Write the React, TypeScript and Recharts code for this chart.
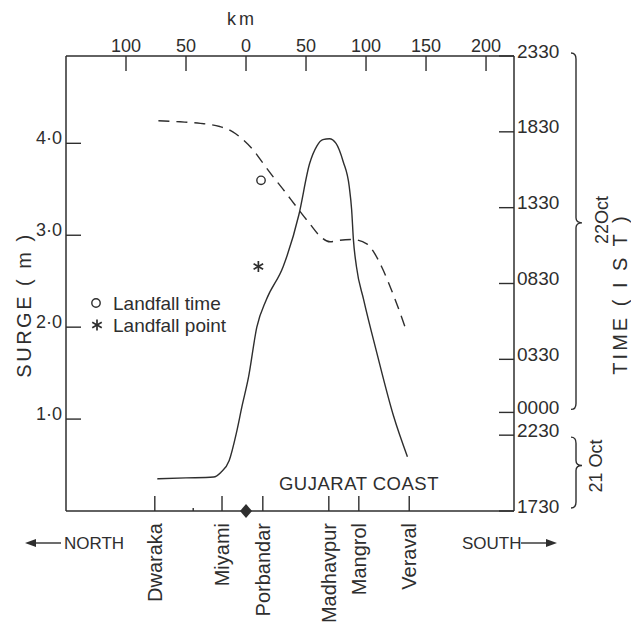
import { ComposedChart, Line, Scatter, XAxis, YAxis, Customized } from 'recharts'

// distance along the coast in km (negative = north of the landfall point)
const surgeKm = [-74, -50, -27, -21, -14, -8, -3.5, 2, 9, 17, 31, 44, 53, 59, 64, 69.5, 75, 81, 86, 88, 89.5, 92, 98, 109, 123, 134.5]
// peak surge, metres
const surgeM = [0.35, 0.36, 0.37, 0.42, 0.55, 0.85, 1.13, 1.45, 2.0, 2.3, 2.66, 3.22, 3.78, 3.97, 4.04, 4.05, 4.0, 3.8, 3.53, 3.28, 2.95, 2.66, 2.3, 1.72, 1.03, 0.59]

// time of peak surge, hours after 1730 IST 21 Oct
const timeKm = [-73, -55, -38, -22, -11, -2, 6, 14, 23, 32, 42, 53, 62, 70, 78, 89, 101, 107, 113, 124, 134]
const timeHrs = [25.73, 25.66, 25.56, 25.35, 25.0, 24.45, 23.8, 22.95, 22.0, 21.1, 20.06, 18.95, 18.1, 17.75, 17.85, 17.9, 17.6, 17.0, 16.1, 14.0, 11.8]

const kmTicks = [-100, -50, 0, 50, 100, 150, 200]
const surgeTicks = [1, 2, 3, 4]
const surgeLabels = ['1·0', '2·0', '3·0', '4·0']
const timeTicks = [0, 5, 6.5, 10, 15, 20, 25, 30]
const timeLabels = ['1730', '2230', '0000', '0330', '0830', '1330', '1830', '2330']
const places = ['Dwaraka', 'Miyami', 'Porbandar', 'Madhavpur', 'Mangrol', 'Veraval']
const placeKm = [-76, -20, 14, 69, 94, 136]
const minorKm = [-44]

const landfallTime = [{ km: 12.5, hrs: 21.8 }]
const landfallPoint = [{ km: 10.3, surge: 2.66 }]
const landfallKm = [{ km: 0, surge: 0 }]

const surgeData = surgeKm.map((km, i) => ({ km, surge: surgeM[i] }))
const timeData = timeKm.map((km, i) => ({ km, hrs: timeHrs[i] }))

const INK = '#2e2e2e'
const FONT = '"Liberation Sans", Arial, sans-serif'
const W = 631
const H = 623
// axes take 1px each, so the plot box sits at 66..514 x 56..511
const M = { top: 55, right: 116, bottom: 111, left: 65 }
const PLOT_TOP = 56
const PLOT_H = 455
const HOURS = 30
const TICK = 15

const hourY = (h: number) => PLOT_TOP + (1 - h / HOURS) * PLOT_H

const TopTick = ({ x, y, payload }: any) => (
  <g>
    <line x1={x} y1={y} x2={x} y2={y + TICK} stroke={INK} strokeWidth={1.4} />
    <text x={x} y={y - 4} textAnchor="middle" fontSize={18} fill={INK} fontFamily={FONT}>
      {Math.abs(payload.value)}
    </text>
  </g>
)

const LeftTick = ({ x, y, payload }: any) => (
  <g>
    <line x1={x} y1={y} x2={x + TICK} y2={y} stroke={INK} strokeWidth={1.4} />
    <text x={x - 4} y={y + 1} textAnchor="end" fontSize={18} fill={INK} fontFamily={FONT}>
      {surgeLabels[surgeTicks.indexOf(payload.value)]}
    </text>
  </g>
)

const RightTick = ({ x, y, payload }: any) => (
  <g>
    <line x1={x - TICK} y1={y} x2={x} y2={y} stroke={INK} strokeWidth={1.4} />
    <text x={x + 3} y={y + 1.5} textAnchor="start" fontSize={19} fill={INK} fontFamily={FONT}>
      {timeLabels[timeTicks.indexOf(payload.value)]}
    </text>
  </g>
)

const PlaceTick = ({ x, y, payload }: any) => {
  const name = places[placeKm.indexOf(payload.value)]
  return (
    <g>
      <line x1={x} y1={y} x2={x} y2={y - (name ? TICK : 3)} stroke={INK} strokeWidth={1.4} />
      {name && (
        <text
          transform={`translate(${x + 7},${y + 12}) rotate(-90)`}
          textAnchor="end"
          fontSize={20}
          fill={INK}
          fontFamily={FONT}
        >
          {name}
        </text>
      )}
    </g>
  )
}

const Asterisk = ({ cx, cy, r = 5.5 }: any) => (
  <g stroke={INK} strokeWidth={1.7}>
    {[0, 60, 120].map((a) => {
      const t = (a * Math.PI) / 180
      return (
        <line
          key={a}
          x1={cx - r * Math.sin(t)}
          y1={cy - r * Math.cos(t)}
          x2={cx + r * Math.sin(t)}
          y2={cy + r * Math.cos(t)}
        />
      )
    })}
  </g>
)

const Ring = ({ cx, cy }: any) => <circle cx={cx} cy={cy} r={4.2} fill="#fff" stroke={INK} strokeWidth={1.4} />

const Diamond = ({ cx, cy }: any) => (
  <path d={`M${cx},${cy - 7} L${cx + 6},${cy} L${cx},${cy + 7} L${cx - 6},${cy} Z`} fill={INK} />
)

// curly bracket opening to the left, tip pointing right
const brace = (x: number, y1: number, y2: number, ym: number) =>
  `M${x - 5},${y1} Q${x},${y1} ${x},${y1 + 6} L${x},${ym - 5} Q${x},${ym} ${x + 6},${ym} ` +
  `Q${x},${ym} ${x},${ym + 5} L${x},${y2 - 6} Q${x},${y2} ${x - 5},${y2}`

const Notes = () => (
  <g fontFamily={FONT} fill={INK}>
    <text x={242} y={25} textAnchor="middle" fontSize={18} letterSpacing={3}>km</text>
    <text transform="translate(31,305) rotate(-90)" textAnchor="middle" fontSize={20} letterSpacing={2.5}>
      SURGE ( m )
    </text>
    <text transform="translate(627,294) rotate(-90)" textAnchor="middle" fontSize={20} letterSpacing={3}>
      TIME ( I S T )
    </text>
    <text transform="translate(608,220) rotate(-90)" textAnchor="middle" fontSize={18}>22Oct</text>
    <text transform="translate(602,466) rotate(-90)" textAnchor="middle" fontSize={18}>21 Oct</text>
    <path d={brace(576, hourY(HOURS) - 3, hourY(6.5) - 3, hourY(19))} fill="none" stroke={INK} strokeWidth={1.4} />
    <path d={brace(576, hourY(5) + 2, hourY(0) - 3, hourY(3))} fill="none" stroke={INK} strokeWidth={1.4} />

    <Ring cx={96} cy={303} />
    <text x={113} y={310} fontSize={19}>Landfall time</text>
    <Asterisk cx={97} cy={325} />
    <text x={113} y={332} fontSize={19}>Landfall point</text>

    <text x={359} y={490} textAnchor="middle" fontSize={18.5} letterSpacing={0.5}>GUJARAT COAST</text>

    <line x1={30} y1={543} x2={61} y2={543} stroke={INK} strokeWidth={1.4} />
    <path d="M25,543 L36,539 L36,547 Z" fill={INK} />
    <text x={64} y={549} fontSize={17}>NORTH</text>
    <text x={462} y={549} fontSize={17}>SOUTH</text>
    <line x1={521} y1={543} x2={551} y2={543} stroke={INK} strokeWidth={1.4} />
    <path d="M557,543 L546,539 L546,547 Z" fill={INK} />
  </g>
)

const axisStyle = { stroke: INK, strokeWidth: 1.5 }

export default function App() {
  return (
    <div style={{ position: 'absolute', left: 0, top: 0, width: W, height: H, background: '#fff' }}>
      <ComposedChart width={W} height={H} margin={M}>
        <XAxis
          xAxisId="km"
          orientation="top"
          type="number"
          dataKey="km"
          domain={[-150, 223.3]}
          ticks={kmTicks}
          interval={0}
          height={1}
          tickSize={0}
          tickMargin={0}
          tick={<TopTick />}
          axisLine={axisStyle}
        />
        <XAxis
          xAxisId="places"
          orientation="bottom"
          type="number"
          dataKey="km"
          domain={[-150, 223.3]}
          ticks={[...placeKm, ...minorKm].sort((a, b) => a - b)}
          interval={0}
          height={1}
          tickSize={0}
          tickMargin={0}
          tick={<PlaceTick />}
          axisLine={axisStyle}
        />
        <YAxis
          yAxisId="surge"
          orientation="left"
          type="number"
          domain={[0, 4.95]}
          ticks={surgeTicks}
          interval={0}
          width={1}
          tickSize={0}
          tickMargin={0}
          tick={<LeftTick />}
          axisLine={axisStyle}
        />
        <YAxis
          yAxisId="time"
          orientation="right"
          type="number"
          domain={[0, HOURS]}
          ticks={timeTicks}
          interval={0}
          width={1}
          tickSize={0}
          tickMargin={0}
          tick={<RightTick />}
          axisLine={axisStyle}
        />

        <Line
          xAxisId="km"
          yAxisId="time"
          data={timeData}
          dataKey="hrs"
          type="monotone"
          stroke={INK}
          strokeWidth={1.4}
          strokeDasharray="11 7"
          dot={false}
          isAnimationActive={false}
        />
        <Line
          xAxisId="km"
          yAxisId="surge"
          data={surgeData}
          dataKey="surge"
          type="monotone"
          stroke={INK}
          strokeWidth={1.4}
          dot={false}
          isAnimationActive={false}
        />
        <Scatter
          xAxisId="km"
          yAxisId="time"
          data={landfallTime}
          dataKey="hrs"
          shape={(p: any) => <Ring cx={p.cx} cy={p.cy} />}
          isAnimationActive={false}
        />
        <Scatter
          xAxisId="km"
          yAxisId="surge"
          data={landfallPoint}
          dataKey="surge"
          shape={(p: any) => <Asterisk cx={p.cx} cy={p.cy} />}
          isAnimationActive={false}
        />
        <Scatter
          xAxisId="places"
          yAxisId="surge"
          data={landfallKm}
          dataKey="surge"
          shape={(p: any) => <Diamond cx={p.cx} cy={p.cy} />}
          isAnimationActive={false}
        />
        <Customized component={<Notes />} />
      </ComposedChart>
    </div>
  )
}
